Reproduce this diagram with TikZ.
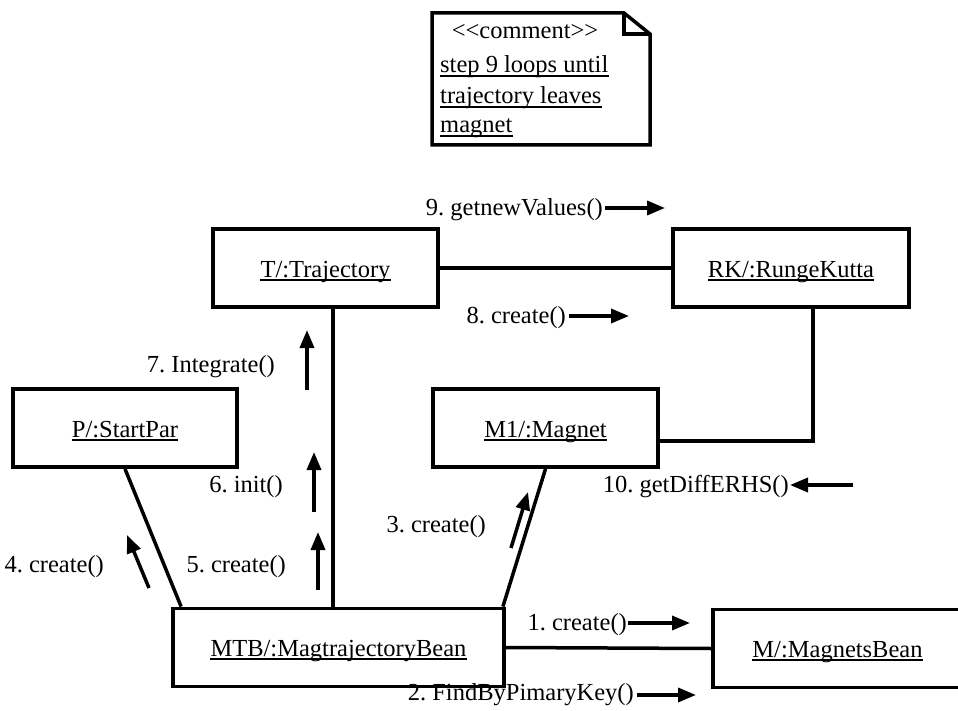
\documentclass[tikz,border=0pt]{standalone}
\usepackage{fontspec}
\setmainfont{Liberation Serif}
\usetikzlibrary{arrows.meta}
\frenchspacing
\newcommand{\ulabel}[4][base]{\node[lab,anchor=#1] (#2) at (#3) {#4};
  \draw[uline] ([yshift=-3pt]#2.base west) -- ([yshift=-3pt]#2.base east);}
\begin{document}
\begin{tikzpicture}[x=1pt,y=-1pt,
  box/.style={draw,line width=3.8pt,minimum height=78pt,inner sep=0pt},
  conn/.style={line width=3.5pt},
  lab/.style={inner sep=0pt,font=\fontsize{24.5}{28}\selectfont\frenchspacing},
  uline/.style={line width=1.6pt},
  msg/.style={line width=3.5pt,-{Triangle[length=18pt,width=14pt]}}]
\useasboundingbox (0,0) rectangle (958,711);
% note
\draw[line width=3.5pt,line join=miter] (432,13) -- (624,13) -- (650,34) -- (650,145) -- (432,145) -- cycle;
\draw[line width=3.5pt] (624,13) -- (624,34) -- (650,34);
\node[lab,anchor=base] (cm) at (525,39) {<\kern0pt<comment>\kern0pt>};
\ulabel[base west]{n1}{440,73}{step 9 loops until\ }
\ulabel[base west]{n2}{440,104}{trajectory leaves\ }
\ulabel[base west]{n3}{440,133}{magnet}
% boxes
\node[box,minimum width=225pt] (T) at (325.5,268) {};
\node[box,minimum width=236pt] (RK) at (791,268) {};
\node[box,minimum width=224pt] (P) at (125,428) {};
\node[box,minimum width=225pt] (M1) at (545.5,428) {};
\node[box,minimum width=331pt] (MTB) at (338.5,647.5) {};
\node[box,minimum width=249pt] (M) at (837.5,648.5) {};
\ulabel{Tl}{325.5,277}{T/:Trajectory}
\ulabel{RKl}{791,277}{RK/:RungeKutta}
\ulabel{Pl}{125,437}{P/:StartPar}
\ulabel{M1l}{545.5,437}{M1/:Magnet}
\ulabel{MTBl}{338.5,656}{MTB/:MagtrajectoryBean}
\ulabel{Ml}{837.5,657}{M/:MagnetsBean}
% connectors
\draw[conn] (T.east) -- (RK.west);
\draw[conn] ([xshift=7.5pt]T.south) -- ([xshift=7.5pt]T.south |- MTB.north);
\draw[conn] ([xshift=22pt]RK.south) |- ([yshift=-13pt]M1.east);
\draw[conn] (P.south) -- ([xshift=10pt]MTB.north west);
\draw[conn] (M1.south) -- ([xshift=-3pt]MTB.north east);
\draw[conn] (MTB.east) -- (M.west);
% message arrows
\coordinate (a9s) at (605,208); \coordinate (a9e) at (665,208);
\coordinate (a8s) at (569,316); \coordinate (a8e) at (629,316);
\coordinate (a7s) at (307,390); \coordinate (a7e) at (307,330);
\coordinate (a6s) at (314,512); \coordinate (a6e) at (314,452);
\coordinate (a5s) at (318,590); \coordinate (a5e) at (318,532);
\coordinate (a4s) at (149,588); \coordinate (a4e) at (127,535);
\coordinate (a3s) at (511,548); \coordinate (a3e) at (528,492);
\coordinate (a1s) at (628,623); \coordinate (a1e) at (690,623);
\coordinate (a2s) at (637,695); \coordinate (a2e) at (696,695);
\coordinate (a10s) at (853,485); \coordinate (a10e) at (790,485);
\foreach \a in {9,8,7,6,5,4,3,1,2,10} \draw[msg] (a\a s) -- (a\a e);
\node[lab,anchor=east] (l9) at (603,210) {9. getnewValues()};
\node[lab,anchor=east] (l8) at (566,318) {8. create()};
\node[lab,anchor=east] (l7) at (275,367) {7. Integrate()};
\node[lab,anchor=east] (l6) at (283,487) {6. init()};
\node[lab,anchor=east] (l5) at (286,567) {5. create()};
\node[lab,anchor=east] (l4) at (104,567) {4. create()};
\node[lab,anchor=east] (l3) at (486,527) {3. create()};
\node[lab,anchor=east] (l1) at (627,625) {1. create()};
\node[lab,anchor=east] (l2) at (634,695) {2. FindByPimaryKey()};
\node[lab,anchor=east] (l10) at (789,487) {10. getDiffERHS()};
\end{tikzpicture}
\end{document}
